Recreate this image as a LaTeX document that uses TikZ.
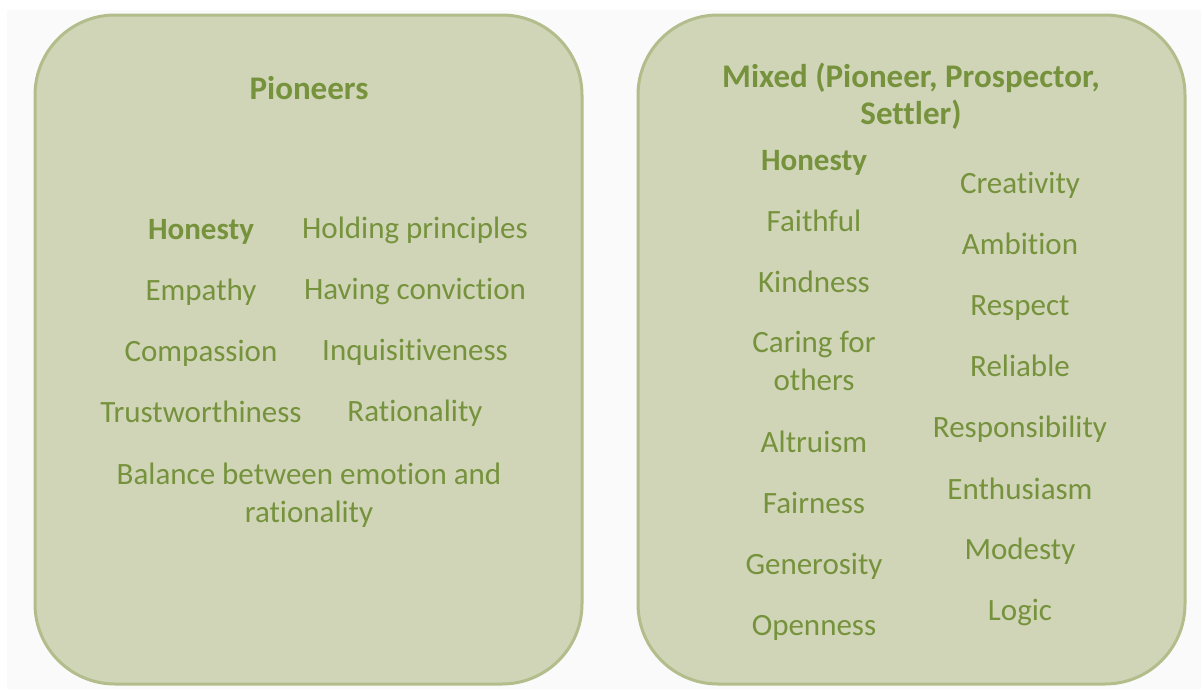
\documentclass[tikz,border=0pt]{standalone}
\usepackage{fontspec}
\setmainfont{Carlito}[Ligatures=NoCommon]
\definecolor{panelfill}{HTML}{CFD5B6}
\definecolor{panelline}{HTML}{B2BD8B}
\definecolor{ink}{HTML}{76923C}
\definecolor{paper}{HTML}{FAFAFA}
\begin{document}
\begin{tikzpicture}[x=1pt,y=-1pt,
  panel/.style={fill=panelfill,draw=panelline,line width=3pt,rounded corners=80pt},
  word/.style={anchor=base,inner sep=0pt,text=ink,font=\fontsize{31}{38}\selectfont},
  head/.style={word,font=\fontsize{31}{38}\selectfont\bfseries},
  title/.style={word,align=center,font=\fontsize{33}{37}\selectfont\bfseries},
  para/.style={word,align=center}]
  % page and backdrop
  \useasboundingbox (0,0) rectangle (1203,689);
  \fill[white] (0,0) rectangle (1203,689);
  \fill[paper] (7,10) rectangle (1201,689);
  % panels
  \draw[panel] (35,15) rectangle (582,684);
  \draw[panel] (638,15) rectangle (1185,684);

  % left panel (multi-line nodes sit on the baseline of their last line)
  \node[title] (pio) at (309,99) {Pioneers};
  \node[head] (l1) at (201,239) {Honesty};
  \node[word] (r1) at (415,238) {Holding principles};
  \node[word] (l2) at (201,300) {Empathy};
  \node[word] (r2) at (415,299) {Having conviction};
  \node[word] (l3) at (201,361) {Compassion};
  \node[word] (r3) at (415,360) {Inquisitiveness};
  \node[word] (l4) at (201,422) {Trustworthiness};
  \node[word] (r4) at (415,421) {Rationality};
  \node[para] (bal) at (309,522) {Balance between emotion and\\rationality};

  % right panel
  \node[title] (mix) at (911,124) {Mixed (Pioneer, Prospector,\\Settler)};
  \node[head] (a1) at (814,170) {Honesty};
  \node[word] (a2) at (814,231) {Faithful};
  \node[word] (a3) at (814,292) {Kindness};
  \node[para] (a4) at (814,390) {Caring for\\others};
  \node[word] (a5) at (814,452) {Altruism};
  \node[word] (a6) at (814,513) {Fairness};
  \node[word] (a7) at (814,574) {Generosity};
  \node[word] (a8) at (814,635) {Openness};
  \node[word] (b1) at (1020,193) {Creativity};
  \node[word] (b2) at (1020,254) {Ambition};
  \node[word] (b3) at (1020,315) {Respect};
  \node[word] (b4) at (1020,376) {Reliable};
  \node[word] (b5) at (1020,437) {Responsibility};
  \node[word] (b6) at (1020,499) {Enthusiasm};
  \node[word] (b7) at (1020,559) {Modesty};
  \node[word] (b8) at (1020,620) {Logic};
\end{tikzpicture}
\end{document}
